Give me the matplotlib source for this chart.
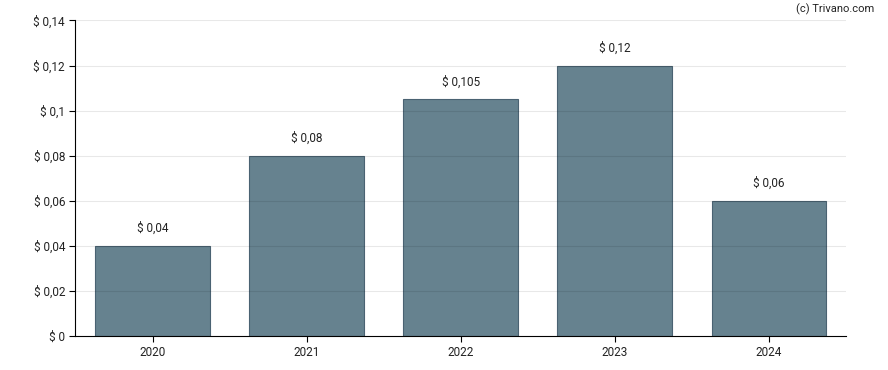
import matplotlib.pyplot as plt

years = ['2020', '2021', '2022', '2023', '2024']
values = [0.04, 0.08, 0.105, 0.12, 0.06]
labels = ['$ 0,04', '$ 0,08', '$ 0,105', '$ 0,12', '$ 0,06']
yticks = [0, 0.02, 0.04, 0.06, 0.08, 0.1, 0.12, 0.14]
ytick_labels = ['$ 0', '$ 0,02', '$ 0,04', '$ 0,06', '$ 0,08', '$ 0,1', '$ 0,12', '$ 0,14']

plt.rcParams['font.family'] = ['Roboto', 'DejaVu Sans']
plt.rcParams['font.size'] = 8.5

fig = plt.figure(figsize=(8.88, 3.70), dpi=100)
ax = fig.add_axes([0.085, 0.0932, 0.8677, 0.8514])

x = range(len(years))
ax.bar(x, values, width=0.745, color='#66828f', edgecolor='#4a6272', linewidth=0.8, zorder=2)
for i, v in enumerate(values):
    ax.text(i, v + 0.0047, labels[i], ha='center', va='bottom', color='#222222')

# grid drawn over the bars, semi-transparent
for t in yticks[1:]:
    ax.axhline(t, color='black', linewidth=0.8, alpha=0.09, zorder=3)

ax.set_xlim(-0.5, 4.5)
ax.set_ylim(0, 0.14)
ax.set_xticks(list(x))
ax.set_xticklabels(years)
ax.set_yticks(yticks)
ax.set_yticklabels(ytick_labels)
ax.spines['top'].set_visible(False)
ax.spines['right'].set_visible(False)
ax.tick_params(length=4, color='black', labelcolor='#222222')

fig.text(0.985, 0.975, '(c) Trivano.com', ha='right', va='center', color='#222222', fontsize=8)

fig.savefig('out.png')
